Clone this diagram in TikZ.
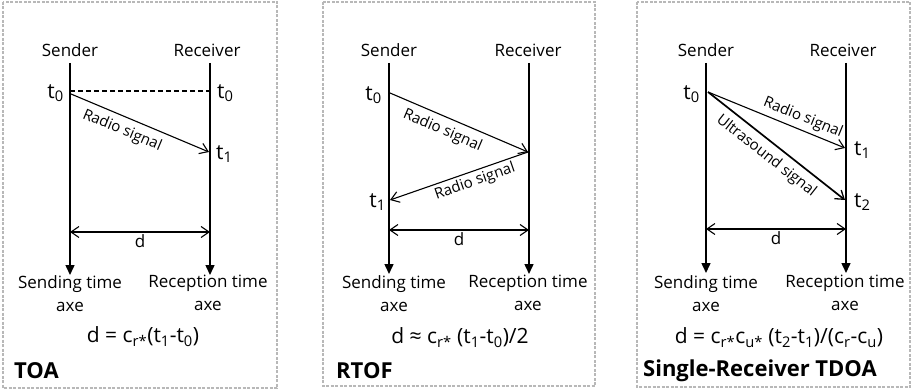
\documentclass[tikz,border=0pt]{standalone}
\usepackage{fontspec}
\setmainfont{Open Sans}
\usetikzlibrary{arrows.meta}
\begin{document}
\begin{tikzpicture}[x=1pt,y=-1pt,
  font=\fontsize{17}{20}\selectfont,
  frame/.style={draw=black!28, dash pattern=on 3pt off 1.5pt, line width=1.3pt},
  timeaxis/.style={line width=1.5pt, -{Triangle[length=10pt,width=9pt]}},
  signal/.style={line width=1.1pt, -{Straight Barb[length=8pt,width=11pt,line width=1.1pt]}},
  usignal/.style={line width=1.7pt, -{Straight Barb[length=8pt,width=11pt,line width=1.3pt]}},
  dist/.style={line width=1.1pt, {Straight Barb[length=8pt,width=11pt,line width=1.1pt]}-{Straight Barb[length=8pt,width=11pt,line width=1.1pt]}},
  timelbl/.style={inner sep=1pt, font=\fontsize{21}{24}\selectfont},
  siglbl/.style={font=\fontsize{15}{18}\selectfont},
  axelbl/.style={align=center, font=\fontsize{17}{23}\selectfont, anchor=north, inner sep=0pt},
  eqlbl/.style={inner sep=0pt, font=\fontsize{21}{24}\selectfont},
  title/.style={font=\fontsize{22}{24}\selectfont\bfseries, anchor=west, inner sep=0pt}
]
\useasboundingbox (0,0) rectangle (913,390);

% ---------------- TOA ----------------
\draw[frame] (3,2) rectangle (277,388);
\node (aSl) at (70,50) {Sender};
\node (aRl) at (207,50) {Receiver};
\coordinate (aStop) at (70,63);
\coordinate (aRtop) at (210,63);
\coordinate (aSbot) at (70,275);
\coordinate (aRbot) at (210,275);
\draw[timeaxis] (aStop) -- (aSbot);
\draw[timeaxis] (aRtop) -- (aRbot);
\coordinate (aS0) at (70,91);
\coordinate (aR0) at (210,91);
\coordinate (aSa) at (71,94);
\coordinate (aR1) at (209,152);
\node[timelbl, left] (at0) at ([xshift=-5pt,yshift=-2pt]aS0) {t\textsubscript{0}};
\node[timelbl, right] (at0r) at ([xshift=6pt,yshift=-2pt]aR0) {t\textsubscript{0}};
\node[timelbl, right] (at1) at ([xshift=6pt,yshift=-2pt]aR1) {t\textsubscript{1}};
\draw[line width=1.1pt, dash pattern=on 5pt off 3pt] (aS0) -- (aR0);
\draw[signal] (aSa) -- node[siglbl, sloped, below, pos=0.41, inner sep=6pt] (arad) {Radio signal} (aR1);
\coordinate (aDl) at (70,232);
\coordinate (aDr) at (210,232);
\draw[dist] (aDl) -- node[below, inner sep=2pt] (ad) {d} (aDr);
\node[axelbl] (asend) at (70,275) {Sending time\\axe};
\node[axelbl] (arec) at (208,275) {Reception time\\axe};
\node[eqlbl] (aeq) at (143,337) {d = c\textsubscript{r*}(t\textsubscript{1}-t\textsubscript{0})};
\node[title] (atitle) at (14,371) {TOA};

% ---------------- RTOF ----------------
\draw[frame] (323,2) rectangle (595,386);
\node (bSl) at (389,50) {Sender};
\node (bRl) at (528,50) {Receiver};
\coordinate (bStop) at (389,63);
\coordinate (bRtop) at (529,63);
\coordinate (bSbot) at (389,274);
\coordinate (bRbot) at (529,274);
\draw[timeaxis] (bStop) -- (bSbot);
\draw[timeaxis] (bRtop) -- (bRbot);
\coordinate (bS0) at (390,93);
\coordinate (bR1) at (528,152);
\coordinate (bS1) at (390,200);
\node[timelbl, left] (bt0) at ([xshift=-7pt,yshift=-2pt]bS0) {t\textsubscript{0}};
\node[timelbl, left] (bt1) at ([xshift=-3pt,yshift=-2pt]bS1) {t\textsubscript{1}};
\draw[signal] (bS0) -- node[siglbl, sloped, below, pos=0.42, inner sep=6pt] (brad) {Radio signal} (bR1);
\draw[signal] (bR1) -- (bS1);
\path (bS1) -- node[siglbl, sloped, below, pos=0.59, inner sep=3pt] (brad2) {Radio signal} (bR1);
\coordinate (bDl) at (389,230);
\coordinate (bDr) at (529,230);
\draw[dist] (bDl) -- node[below, inner sep=2pt] (bd) {d} (bDr);
\node[axelbl] (bsend) at (394,275) {Sending time\\axe};
\node[axelbl] (brec) at (528,275) {Reception time\\axe};
\node[eqlbl] (beq) at (460,338) {d ≈ c\textsubscript{r*} (t\textsubscript{1}-t\textsubscript{0})/2};
\node[title] (btitle) at (336,371) {RTOF};

% ---------------- Single-Receiver TDOA ----------------
\draw[frame] (637,2) rectangle (910,387);
\node (cSl) at (706,50) {Sender};
\node (cRl) at (843,50) {Receiver};
\coordinate (cStop) at (706,63);
\coordinate (cRtop) at (846,63);
\coordinate (cSbot) at (706,273);
\coordinate (cRbot) at (846,273);
\draw[timeaxis] (cStop) -- (cSbot);
\draw[timeaxis] (cRtop) -- (cRbot);
\coordinate (cS0) at (708,92);
\coordinate (cR1) at (845,148);
\coordinate (cR2) at (845,200);
\node[timelbl, left] (ct0) at ([xshift=-7pt,yshift=-2pt]cS0) {t\textsubscript{0}};
\node[timelbl, right] (ct1) at ([xshift=8pt,yshift=-2pt]cR1) {t\textsubscript{1}};
\node[timelbl, right] (ct2) at ([xshift=8pt,yshift=-2pt]cR2) {t\textsubscript{2}};
\draw[signal] (cS0) -- node[siglbl, sloped, above, pos=0.66, inner sep=4pt] (crad) {Radio signal} (cR1);
\draw[usignal] (cS0) -- node[siglbl, sloped, below, pos=0.49, inner sep=6pt] (cus) {Ultrasound signal} (cR2);
\coordinate (cDl) at (706,229);
\coordinate (cDr) at (846,229);
\draw[dist] (cDl) -- node[below, inner sep=2pt] (cd) {d} (cDr);
\node[axelbl] (csend) at (706,275) {Sending time\\axe};
\node[axelbl] (crec) at (845,275) {Reception time\\axe};
\node[eqlbl] (ceq) at (779,338) {d = c\textsubscript{r*}c\textsubscript{u*} (t\textsubscript{2}-t\textsubscript{1})/(c\textsubscript{r}-c\textsubscript{u})};
\node[title] (ctitle) at (643,371) {Single-Receiver TDOA};
\end{tikzpicture}
\end{document}
